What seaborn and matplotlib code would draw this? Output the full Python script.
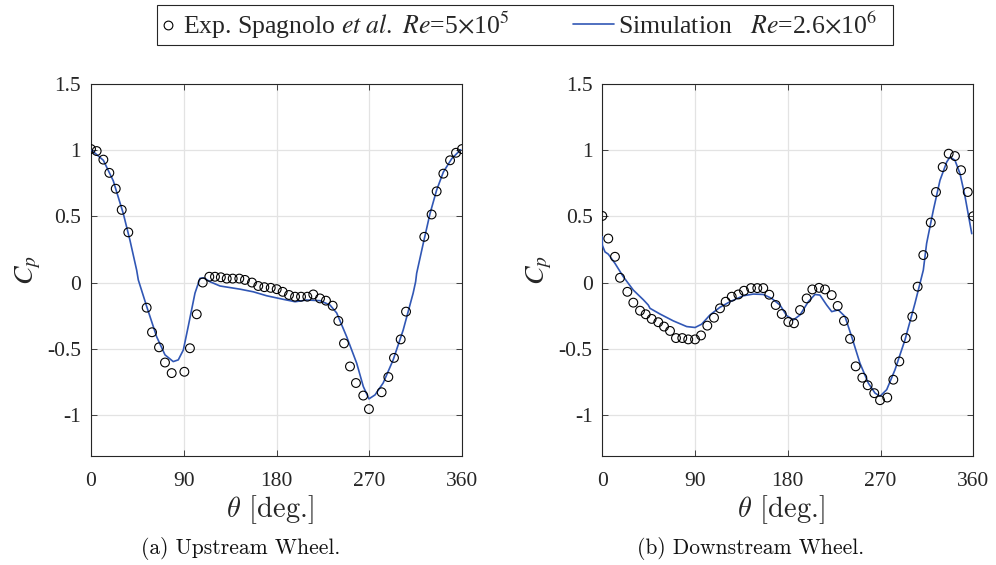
import numpy as np
import pandas as pd
import matplotlib
matplotlib.use("Agg")
import matplotlib.pyplot as plt
import seaborn as sns
from matplotlib.lines import Line2D
from matplotlib.patches import Rectangle

# ---------------- data ----------------
up_exp_theta = [0, 5.5, 12, 17.8, 24, 29.8, 36.2, 54, 59.2, 66, 71.8, 78.3, 90.6, 96,
                102.6, 108.4, 114.8, 120.3, 126, 131.7, 137.5, 143.9, 149.4, 156.2,
                162.3, 168.2, 174.4, 180.2, 186, 192.1, 198, 203.8, 209.9, 215.7,
                222.2, 228, 234.5, 240, 245.5, 251.3, 257.1, 264.2, 269.7, 282, 288.5,
                294, 300.5, 305.7, 323.4, 330.5, 335.4, 341.9, 348.4, 354.2, 360]
up_exp_cp = [1.01, 0.995, 0.93, 0.83, 0.71, 0.55, 0.38, -0.19, -0.376, -0.49, -0.605,
             -0.685, -0.675, -0.497, -0.24, 0.0, 0.044, 0.044, 0.04, 0.03, 0.03, 0.03,
             0.02, 0.0, -0.026, -0.035, -0.04, -0.05, -0.07, -0.094, -0.107, -0.107,
             -0.107, -0.09, -0.12, -0.137, -0.175, -0.29, -0.46, -0.635, -0.76, -0.855,
             -0.957, -0.83, -0.715, -0.57, -0.43, -0.22, 0.346, 0.515, 0.69, 0.824,
             0.925, 0.982, 1.01]

up_sim_theta = [0.7, 12, 21.6, 31.4, 37.8, 44.3, 45.9, 54, 63.7, 71.8, 79.8, 84.7, 89.6,
                94.4, 100.9, 105.8, 109.6, 115.5, 125.2, 144.6, 157.5, 170.5, 186.6,
                198, 209.3, 222.2, 231.9, 238.4, 248.1, 257.8, 264.2, 269.7, 275.6,
                283.5, 293.2, 302.9, 312.6, 315, 316, 322.4, 328.9, 335.4, 341.9, 350,
                358.7]
up_sim_cp = [1.0, 0.925, 0.77, 0.52, 0.32, 0.094, 0.02, -0.18, -0.41, -0.547, -0.598,
             -0.585, -0.51, -0.33, -0.08, 0.032, 0.036, 0.006, -0.026, -0.05, -0.07,
             -0.1, -0.127, -0.145, -0.132, -0.137, -0.17, -0.23, -0.41, -0.61, -0.786,
             -0.88, -0.85, -0.76, -0.585, -0.36, -0.08, 0.006, 0.07, 0.296, 0.52, 0.7,
             0.836, 0.937, 1.005]

down_exp_theta = [0, 5.8, 12.3, 17.2, 24.3, 30.1, 36.6, 42.1, 47.9, 54.3, 59.9, 65.7,
                  71.5, 77.6, 83.4, 90, 95.8, 101.9, 108.4, 114.2, 119.7, 125.6, 132,
                  137.5, 144.3, 150.4, 156.2, 162, 168.3, 174.1, 180.5, 186, 191.9,
                  198.3, 203.8, 210.3, 216.1, 222.6, 228.4, 234.5, 240.4, 245.9, 252.3,
                  257.5, 263.9, 269.5, 276.5, 282.4, 288.2, 294.4, 300.8, 306, 311.5,
                  318.7, 323.8, 330.3, 336.1, 342.2, 348.1, 354.6, 360]
down_exp_cp = [0.504, 0.333, 0.195, 0.036, -0.07, -0.152, -0.213, -0.24, -0.275, -0.3,
               -0.333, -0.366, -0.42, -0.42, -0.43, -0.43, -0.4, -0.326, -0.266, -0.195,
               -0.145, -0.107, -0.09, -0.062, -0.042, -0.042, -0.042, -0.092, -0.17,
               -0.238, -0.298, -0.308, -0.208, -0.12, -0.052, -0.04, -0.052, -0.095,
               -0.177, -0.29, -0.426, -0.634, -0.72, -0.777, -0.837, -0.89, -0.87,
               -0.735, -0.597, -0.42, -0.258, -0.031, 0.208, 0.454, 0.685, 0.874, 0.975,
               0.957, 0.85, 0.685, 0.502]

down_sim_theta = [0, 0, 2.6, 5.8, 12.3, 20.4, 30.1, 39.8, 44.6, 46.3, 56, 68.9, 81.9, 90,
                  96.4, 104.5, 114.2, 123.9, 136.8, 146.5, 156.2, 164.4, 172.4, 178.9,
                  185.4, 191.9, 199.9, 206.4, 211.2, 217.7, 222.6, 229, 235.5, 242, 250,
                  258.1, 264.6, 269.5, 276, 284, 293.7, 303.4, 311.5, 314.7, 321.2,
                  327.7, 334.2, 337.4, 342.2, 347.1, 352, 358.5]
down_sim_cp = [0.346, 0.283, 0.232, 0.215, 0.145, 0.044, -0.057, -0.13, -0.17, -0.195,
               -0.238, -0.29, -0.333, -0.34, -0.315, -0.245, -0.187, -0.145, -0.1,
               -0.087, -0.09, -0.12, -0.17, -0.25, -0.283, -0.245, -0.145, -0.09, -0.095,
               -0.17, -0.22, -0.207, -0.257, -0.41, -0.61, -0.76, -0.836, -0.86, -0.81,
               -0.66, -0.434, -0.157, 0.094, 0.296, 0.547, 0.774, 0.912, 0.95, 0.925,
               0.824, 0.65, 0.37]

x_ticks = [0, 90, 180, 270, 360]
y_ticks = [-1, -0.5, 0, 0.5, 1, 1.5]
y_tick_labels = ["-1", "-0.5", "0", "0.5", "1", "1.5"]
captions = ["(a) Upstream Wheel.", "(b) Downstream Wheel."]
exp_label = r"Exp. Spagnolo $et\ al.$ $Re$=5$\times$10$^{5}$"
sim_label = r"Simulation   $Re$=2.6$\times$10$^{6}$"

# ---------------- style ----------------
sns.set_style("ticks")
plt.rcParams["font.family"] = ["Liberation Serif", "DejaVu Serif"]
plt.rcParams["mathtext.fontset"] = "stix"

LINE_C = "#3157b5"
SPINE_C = "#262626"

fig = plt.figure(figsize=(9.96, 5.65), dpi=100)
W, H = 996, 565
ax_h = (455.7 - 84.3) / H
ax_b = 1 - 455.7 / H
axes = [fig.add_axes([91 / W, ax_b, 371 / W, ax_h]),
        fig.add_axes([602.3 / W, ax_b, 371 / W, ax_h])]
caption_x = [241, 751]

datasets = [
    (up_exp_theta, up_exp_cp, up_sim_theta, up_sim_cp),
    (down_exp_theta, down_exp_cp, down_sim_theta, down_sim_cp),
]

for ax, (et, ec, st, sc), cap, cx in zip(axes, datasets, captions, caption_x):
    sim_df = pd.DataFrame({"theta": st, "cp": sc})
    exp_df = pd.DataFrame({"theta": et, "cp": ec})
    sns.lineplot(data=sim_df, x="theta", y="cp", ax=ax, sort=False, estimator=None,
                 color=LINE_C, lw=1.2, zorder=3)
    sns.scatterplot(data=exp_df, x="theta", y="cp", ax=ax, marker="o",
                    facecolor="none", edgecolor="black", linewidth=0.8, s=40, zorder=4)
    ax.set_xlim(0, 360)
    ax.set_ylim(-1.31, 1.5)
    ax.set_xticks(x_ticks)
    ax.set_xticklabels([str(t) for t in x_ticks])
    ax.set_yticks(y_ticks)
    ax.set_yticklabels(y_tick_labels)
    ax.grid(True, color="#e3e3e3", lw=0.9, zorder=0)
    ax.set_axisbelow(True)
    for sp in ax.spines.values():
        sp.set_visible(True)
        sp.set_color(SPINE_C)
        sp.set_linewidth(0.8)
    ax.tick_params(direction="in", top=True, right=True, length=4, width=0.6,
                   color=SPINE_C, labelsize=15.5, labelcolor=SPINE_C)
    ax.tick_params(axis="x", pad=12)
    ax.tick_params(axis="y", pad=7)
    ax.set_xlabel(r"$\theta$ [deg.]", fontsize=20.5, family="cmr10",
                  math_fontfamily="cm", color=SPINE_C)
    ax.xaxis.set_label_coords(0.482, -0.10)
    ax.set_ylabel(r"$C_p$", fontsize=20, color=SPINE_C, labelpad=3)
    fig.text(cx / W, 1 - 548 / H, cap, family="cmr10", fontsize=15.5,
             ha="center", va="center", color="#111111")

# legend: two frameless legends inside one drawn frame
LEG_FS = 18.5
h_exp = Line2D([], [], marker="o", ls="none", mfc="none", mec="black", mew=0.8, ms=6.3)
h_sim = Line2D([], [], color=LINE_C, lw=1.2)
leg1 = fig.legend([h_exp], [exp_label], loc="center left",
                  bbox_to_anchor=(160 / W, 1 - 25 / H), frameon=False,
                  fontsize=LEG_FS, handlelength=0.62, handletextpad=0.27,
                  borderpad=0, borderaxespad=0)
leg2 = fig.legend([h_sim], [sim_label], loc="center left",
                  bbox_to_anchor=(573 / W, 1 - 25 / H), frameon=False,
                  fontsize=LEG_FS, handlelength=1.6, handletextpad=0.15,
                  borderpad=0, borderaxespad=0)
fig.add_artist(Rectangle((157 / W, 1 - 45 / H), 736 / W, 40 / H,
                         transform=fig.transFigure, fill=False,
                         edgecolor=SPINE_C, lw=0.8))

fig.savefig("out.png", dpi=100)
